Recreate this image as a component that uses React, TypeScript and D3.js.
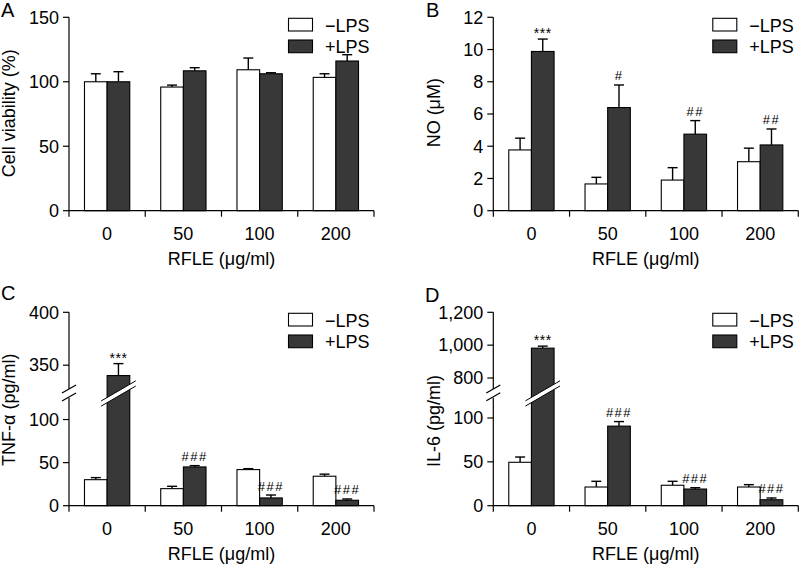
import React from "react";
import * as d3 from "d3";

const categories = ["0", "50", "100", "200"];
const seriesKeys = ["minus", "plus"];
const legendLabels = ["\u2212LPS", "+LPS"];
const xTitle = "RFLE (\u03bcg/ml)";

// Panel A: cell viability (%)
const viabMinus = [100, 95.9, 109.3, 103.4];
const viabMinusErr = [6.2, 1.5, 9.1, 2.8];
const viabPlus = [100, 108.5, 106.2, 116.1];
const viabPlusErr = [7.8, 2.4, 0.8, 4.9];
const viabTicks = [0, 50, 100, 150];

// Panel B: NO (uM)
const noMinus = [3.77, 1.66, 1.9, 3.04];
const noMinusErr = [0.73, 0.41, 0.77, 0.84];
const noPlus = [9.88, 6.4, 4.75, 4.08];
const noPlusErr = [0.77, 1.4, 0.84, 0.99];
const noTicks = [0, 2, 4, 6, 8, 10, 12];
const noAnnot = ["***", "#", "##", "##"];

// Panel C: TNF-alpha (pg/ml)
const tnfMinus = [30.2, 19.8, 41.9, 34.2];
const tnfMinusErr = [2.4, 2.7, 1.1, 2.4];
const tnfPlus = [340.2, 45, 9, 6.3];
const tnfPlusErr = [11.3, 1.5, 3.4, 1.5];
const tnfLowerTicks = [0, 50, 100];
const tnfUpperTicks = [350, 400];
const tnfAnnot = ["***", "###", "###", "###"];

// Panel D: IL-6 (pg/ml)
const il6Minus = [49.5, 21.3, 23.3, 21.3];
const il6MinusErr = [6, 6.5, 4.5, 2.7];
const il6Plus = [981.7, 90.7, 19, 6.8];
const il6PlusErr = [12.3, 5.2, 1.5, 2];
const il6LowerTicks = [0, 50, 100];
const il6UpperTicks = [800, 1000, 1200];
const il6Annot = ["***", "###", "###", "###"];

const yLabelA = "Cell viability (%)";
const yLabelB = "NO (\u03bcM)";
const yLabelC = "TNF-\u03b1 (pg/ml)";
const yLabelD = "IL-6 (pg/ml)";

const FONT = "'Liberation Sans', Arial, Helvetica, sans-serif";
const DARK = "#383838";
const fmt = d3.format(",");

type PanelProps = {
  ax: number;
  y0: number;
  yTop: number;
  lowerDomain: [number, number];
  lowerTop: number;
  upperDomain?: [number, number];
  upperBottom?: number;
  lowerTicks: number[];
  upperTicks?: number[];
  minus: number[];
  minusErr: number[];
  plus: number[];
  plusErr: number[];
  annot?: string[];
  yLabel: string;
  yLabelX: number;
  yLabelY: number;
  letter: string;
  letterX: number;
  letterY: number;
};

function Panel(p: PanelProps) {
  const width = 305;
  const x0 = d3
    .scaleBand<string>()
    .domain(categories)
    .range([p.ax, p.ax + width])
    .paddingInner(0.406)
    .paddingOuter(0.203);
  const x1 = d3.scaleBand<string>().domain(seriesKeys).range([0, x0.bandwidth()]);
  const lower = d3.scaleLinear().domain(p.lowerDomain).range([p.y0, p.lowerTop]);
  const upper =
    p.upperDomain && p.upperBottom !== undefined
      ? d3.scaleLinear().domain(p.upperDomain).range([p.upperBottom, p.yTop])
      : null;
  const y = (v: number) => (upper && v > p.lowerDomain[1] ? upper(v) : lower(v));
  const step = x0.step();
  const bw = x1.bandwidth();
  const series = [
    { key: "minus", vals: p.minus, errs: p.minusErr, fill: "#ffffff" },
    { key: "plus", vals: p.plus, errs: p.plusErr, fill: DARK },
  ];
  const breakMid = upper ? (p.upperBottom! + p.lowerTop) / 2 : 0;
  const slope = 0.58;

  return (
    <g fontFamily={FONT}>
      {series.map((s) =>
        categories.map((c, i) => {
          const bx = (x0(c) as number) + (x1(s.key) as number);
          const top = y(s.vals[i]);
          const et = y(s.vals[i] + s.errs[i]);
          const cx = bx + bw / 2;
          return (
            <g key={s.key + c}>
              <line x1={cx} x2={cx} y1={top} y2={et} stroke="#000" strokeWidth={1.4} />
              <line x1={cx - 5} x2={cx + 5} y1={et} y2={et} stroke="#000" strokeWidth={1.4} />
              <rect x={bx} y={top} width={bw} height={p.y0 - top} fill={s.fill} stroke="#000" strokeWidth={1.1} />
            </g>
          );
        })
      )}
      {upper &&
        series.map((s) =>
          categories.map((c, i) => {
            if (s.vals[i] <= p.lowerDomain[1]) return null;
            const bx = (x0(c) as number) + (x1(s.key) as number);
            const cx = bx + bw / 2;
            const xl = bx - 6;
            const xr = bx + bw + 6;
            const yl = breakMid + (cx - xl) * slope;
            const yr = breakMid - (xr - cx) * slope;
            const h = 2.6;
            return (
              <g key={"brk" + s.key + c}>
                <polygon
                  points={`${xl},${yl - h} ${xr},${yr - h} ${xr},${yr + h} ${xl},${yl + h}`}
                  fill="#fff"
                />
                <line x1={xl} y1={yl - h} x2={xr} y2={yr - h} stroke="#000" strokeWidth={1} />
                <line x1={xl} y1={yl + h} x2={xr} y2={yr + h} stroke="#000" strokeWidth={1} />
              </g>
            );
          })
        )}
      {p.annot &&
        p.annot.map((a, i) => {
          const c = categories[i];
          const cx = (x0(c) as number) + (x1("plus") as number) + bw / 2;
          const et = y(p.plus[i] + p.plusErr[i]);
          const isStar = a.startsWith("*");
          return (
            <text
              key={"an" + i}
              x={cx}
              y={isStar ? et - 1 : et - 4.5}
              textAnchor="middle"
              fontSize={isStar ? 14 : 13}
              letterSpacing={isStar ? 0.5 : 1.5}
              fill="#000"
            >
              {a}
            </text>
          );
        })}
      {upper ? (
        <g stroke="#000" strokeWidth={1.2}>
          <line x1={p.ax} x2={p.ax} y1={p.yTop} y2={p.upperBottom} />
          <line x1={p.ax} x2={p.ax} y1={p.lowerTop} y2={p.y0} />
          <line x1={p.ax - 7} y1={p.upperBottom! + 4} x2={p.ax + 7} y2={p.upperBottom! - 4} />
          <line x1={p.ax - 7} y1={p.lowerTop + 3} x2={p.ax + 7} y2={p.lowerTop - 5} />
        </g>
      ) : (
        <line x1={p.ax} x2={p.ax} y1={p.yTop} y2={p.y0} stroke="#000" strokeWidth={1.2} />
      )}
      {p.lowerTicks.map((t) => (
        <g key={"lt" + t}>
          <line x1={p.ax - 6} x2={p.ax} y1={lower(t)} y2={lower(t)} stroke="#000" strokeWidth={1.2} />
          <text x={p.ax - 10} y={lower(t)} dy="0.35em" textAnchor="end" fontSize={18}>
            {fmt(t)}
          </text>
        </g>
      ))}
      {upper &&
        p.upperTicks!.map((t) => (
          <g key={"ut" + t}>
            <line x1={p.ax - 6} x2={p.ax} y1={upper(t)} y2={upper(t)} stroke="#000" strokeWidth={1.2} />
            <text x={p.ax - 10} y={upper(t)} dy="0.35em" textAnchor="end" fontSize={18}>
              {fmt(t)}
            </text>
          </g>
        ))}
      <line x1={p.ax} x2={p.ax + width} y1={p.y0} y2={p.y0} stroke="#000" strokeWidth={1.2} />
      {d3.range(categories.length + 1).map((i) => (
        <line
          key={"xt" + i}
          x1={p.ax + i * step}
          x2={p.ax + i * step}
          y1={p.y0}
          y2={p.y0 + 6}
          stroke="#000"
          strokeWidth={1.2}
        />
      ))}
      {categories.map((c) => (
        <text key={"xl" + c} x={(x0(c) as number) + x0.bandwidth() / 2} y={p.y0 + 29.3} textAnchor="middle" fontSize={18}>
          {c}
        </text>
      ))}
      <text x={p.ax + width / 2} y={p.y0 + 54.5} textAnchor="middle" fontSize={18}>
        {xTitle}
      </text>
      <text
        transform={`translate(${p.yLabelX},${p.yLabelY}) rotate(-90)`}
        textAnchor="middle"
        fontSize={18}
      >
        {p.yLabel}
      </text>
      {legendLabels.map((l, i) => (
        <g key={"lg" + i}>
          <rect
            x={p.ax + 219.5}
            y={p.yTop + 1 + i * 21.7}
            width={24}
            height={12.7}
            fill={i === 0 ? "#fff" : DARK}
            stroke="#000"
            strokeWidth={1.1}
          />
          <text x={p.ax + 256} y={p.yTop + 14.4 + i * 21} fontSize={18}>
            {l}
          </text>
        </g>
      ))}
      <text x={p.letterX} y={p.letterY} fontSize={20}>
        {p.letter}
      </text>
    </g>
  );
}

export default function App() {
  return (
    <svg
      width={800}
      height={566}
      viewBox="0 0 800 566"
      style={{ position: "absolute", left: 0, top: 0, background: "#fff" }}
    >
      <rect width={800} height={566} fill="#fff" />
      <Panel
        ax={69}
        y0={210.7}
        yTop={17.3}
        lowerDomain={[0, 150]}
        lowerTop={17.3}
        lowerTicks={viabTicks}
        minus={viabMinus}
        minusErr={viabMinusErr}
        plus={viabPlus}
        plusErr={viabPlusErr}
        yLabel={yLabelA}
        yLabelX={15}
        yLabelY={113.3}
        letter="A"
        letterX={1}
        letterY={17.3}
      />
      <Panel
        ax={493.3}
        y0={210.7}
        yTop={17.3}
        lowerDomain={[0, 12]}
        lowerTop={17.3}
        lowerTicks={noTicks}
        minus={noMinus}
        minusErr={noMinusErr}
        plus={noPlus}
        plusErr={noPlusErr}
        annot={noAnnot}
        yLabel={yLabelB}
        yLabelX={440}
        yLabelY={112.7}
        letter="B"
        letterX={426}
        letterY={17.3}
      />
      <Panel
        ax={69}
        y0={505.7}
        yTop={312.3}
        lowerDomain={[0, 125]}
        lowerTop={398}
        upperDomain={[327.5, 400]}
        upperBottom={389}
        lowerTicks={tnfLowerTicks}
        upperTicks={tnfUpperTicks}
        minus={tnfMinus}
        minusErr={tnfMinusErr}
        plus={tnfPlus}
        plusErr={tnfPlusErr}
        annot={tnfAnnot}
        yLabel={yLabelC}
        yLabelX={15}
        yLabelY={409.7}
        letter="C"
        letterX={1}
        letterY={299.7}
      />
      <Panel
        ax={493.3}
        y0={505.7}
        yTop={312.3}
        lowerDomain={[0, 123]}
        lowerTop={397.8}
        upperDomain={[733, 1200]}
        upperBottom={389}
        lowerTicks={il6LowerTicks}
        upperTicks={il6UpperTicks}
        minus={il6Minus}
        minusErr={il6MinusErr}
        plus={il6Plus}
        plusErr={il6PlusErr}
        annot={il6Annot}
        yLabel={yLabelD}
        yLabelX={440}
        yLabelY={421}
        letter="D"
        letterX={425}
        letterY={302.3}
      />
    </svg>
  );
}
